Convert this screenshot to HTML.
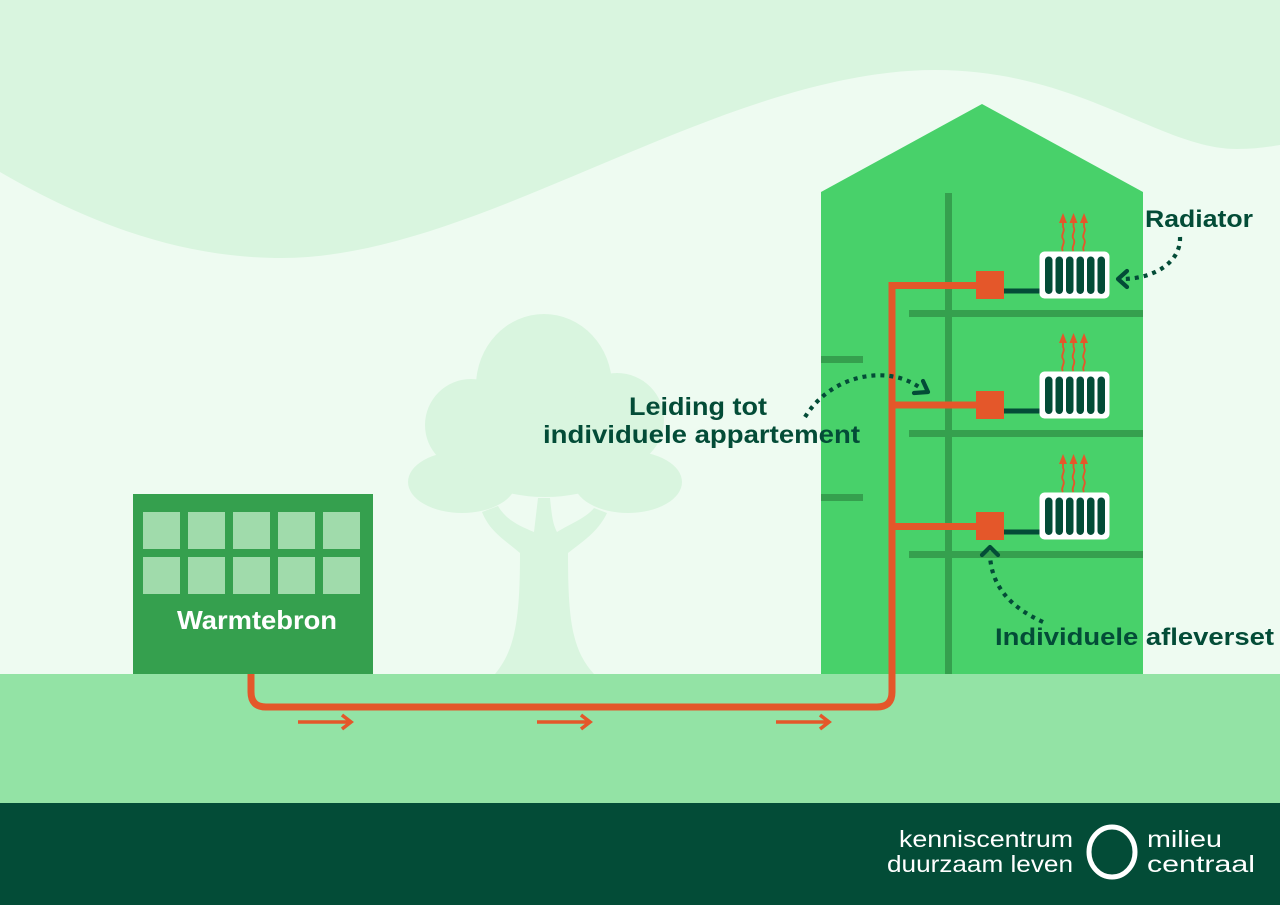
<!DOCTYPE html>
<html><head><meta charset="utf-8"><style>
html,body{margin:0;padding:0;background:#eefbf1;}
svg{display:block;}
</style></head><body>
<svg width="1280" height="905" viewBox="0 0 1280 905" xmlns="http://www.w3.org/2000/svg">
<rect x="0" y="0" width="1280" height="905" fill="#eefbf1"/>
<path d="M0,0 L1280,0 L1280,145 C1268,147 1255,149 1237,149 C1160,149 1080,70 935,70 C720,70 480,258 282,258 C190,258 100,230 0,172 Z" fill="#d9f5df"/>
<!-- tree -->
<g fill="#d9f5df">
<ellipse cx="544" cy="386" rx="68" ry="72"/>
<circle cx="471" cy="425" r="46"/>
<circle cx="617" cy="420" r="47"/>
<ellipse cx="462" cy="482" rx="54" ry="31"/>
<ellipse cx="628" cy="482" rx="54" ry="31"/>
<ellipse cx="545" cy="455" rx="85" ry="42"/>
<path d="M495,674 C515,650 520,620 520,553 C505,540 490,532 482,512 L498,506 C506,520 520,526 534,532 L538,498 L550,498 C552,518 553,524 557,532 C570,524 586,518 594,508 L607,513 C598,532 582,542 568,553 C568,620 572,650 594,674 Z"/>
</g>
<!-- ground & footer -->
<rect x="0" y="674" width="1280" height="129" fill="#93e3a5"/>
<rect x="0" y="803" width="1280" height="102" fill="#034c37"/>
<!-- warmtebron -->
<rect x="133" y="494" width="240" height="180" fill="#35a04e"/>
<g fill="#a0dbab">
<rect x="143" y="512" width="37" height="37"/><rect x="188" y="512" width="37" height="37"/><rect x="233" y="512" width="37" height="37"/><rect x="278" y="512" width="37" height="37"/><rect x="323" y="512" width="37" height="37"/>
<rect x="143" y="557" width="37" height="37"/><rect x="188" y="557" width="37" height="37"/><rect x="233" y="557" width="37" height="37"/><rect x="278" y="557" width="37" height="37"/><rect x="323" y="557" width="37" height="37"/>
</g>
<text x="177" y="629" textLength="160" lengthAdjust="spacingAndGlyphs" font-family="Liberation Sans, sans-serif" font-weight="bold" font-size="26" fill="#ffffff">Warmtebron</text>
<!-- main building -->
<polygon points="821,192 982,104 1143,192 1143,674 821,674" fill="#48d16a"/>
<rect x="945" y="193" width="7" height="481" fill="#35a04e"/>
<rect x="909" y="310" width="234" height="7" fill="#35a04e"/>
<rect x="909" y="430" width="234" height="7" fill="#35a04e"/>
<rect x="909" y="551" width="234" height="7" fill="#35a04e"/>
<rect x="821" y="356" width="42" height="7" fill="#35a04e"/>
<rect x="821" y="494" width="42" height="7" fill="#35a04e"/>
<!-- pipes -->
<path d="M251,674 L251,692 Q251,707 266,707 L877,707 Q892,707 892,692 L892,285.5 L980,285.5" fill="none" stroke="#e4572a" stroke-width="7" stroke-linejoin="miter"/>
<path d="M892,405 L980,405 M892,526.5 L980,526.5" fill="none" stroke="#e4572a" stroke-width="7"/>
<!-- flow arrows -->
<g fill="none" stroke="#e4572a" stroke-width="3.6" stroke-linecap="butt" stroke-linejoin="miter">
<path d="M298,722 L351,722 M342,715 L351,722 L342,729"/>
<path d="M537,722 L590,722 M581,715 L590,722 L581,729"/>
<path d="M776,722 L829,722 M820,715 L829,722 L820,729"/>
</g>
<!-- floors -->
<defs>
<g id="unit">
<rect x="976" y="271" width="28" height="28" fill="#e4572a"/>
<rect x="1004" y="288.5" width="36" height="5" fill="#034c37"/>
<rect x="1039.5" y="251.5" width="70" height="47" rx="5" fill="#ffffff"/>
<g fill="#034c37">
<rect x="1045" y="256.5" width="7.5" height="37.5" rx="3.7"/>
<rect x="1055.5" y="256.5" width="7.5" height="37.5" rx="3.7"/>
<rect x="1066" y="256.5" width="7.5" height="37.5" rx="3.7"/>
<rect x="1076.5" y="256.5" width="7.5" height="37.5" rx="3.7"/>
<rect x="1087" y="256.5" width="7.5" height="37.5" rx="3.7"/>
<rect x="1097.5" y="256.5" width="7.5" height="37.5" rx="3.7"/>
</g>
<g fill="none" stroke="#e4572a" stroke-width="1.8">
<path d="M1063,251 c-3,-4 3,-8 0,-12 c-3,-4 3,-8 0,-12 l0,-6"/>
<path d="M1073.5,251 c-3,-4 3,-8 0,-12 c-3,-4 3,-8 0,-12 l0,-6"/>
<path d="M1084,251 c-3,-4 3,-8 0,-12 c-3,-4 3,-8 0,-12 l0,-6"/>
</g>
<g fill="#e4572a">
<polygon points="1059,223 1063,213 1067,223"/>
<polygon points="1069.5,223 1073.5,213 1077.5,223"/>
<polygon points="1080,223 1084,213 1088,223"/>
</g>
</g>
</defs>
<use href="#unit"/>
<use href="#unit" transform="translate(0,120)"/>
<use href="#unit" transform="translate(0,241)"/>
<!-- labels -->
<g font-family="Liberation Sans, sans-serif" font-weight="bold" fill="#034c37">
<text x="1145" y="227" font-size="24" textLength="108" lengthAdjust="spacingAndGlyphs">Radiator</text>
<text x="629" y="415" font-size="25" textLength="138" lengthAdjust="spacingAndGlyphs">Leiding tot</text>
<text x="543" y="443" font-size="25" textLength="317" lengthAdjust="spacingAndGlyphs">individuele appartement</text>
<text x="995" y="645" font-size="24" textLength="279" lengthAdjust="spacingAndGlyphs">Individuele afleverset</text>
</g>
<!-- dotted arrows -->
<g fill="none" stroke="#034c37" stroke-width="4.2">
<path d="M1180,237 C1181,262 1155,278 1124,279" stroke-dasharray="4 5"/>
<path d="M805,417 C825,385 860,372 890,376 C905,378 915,384 922,389" stroke-dasharray="4 5"/>
<path d="M1043,622 C1012,608 992,588 990,556" stroke-dasharray="4 5"/>
</g>
<g fill="none" stroke="#034c37" stroke-width="4.2" stroke-linecap="round" stroke-linejoin="round">
<path d="M1127,271 L1118,279 L1127,287"/>
<path d="M923,381 L928,392 L914,393"/>
<path d="M982,555 L990,547 L998,555"/>
</g>
<!-- logo -->
<g font-family="Liberation Sans, sans-serif" fill="#ffffff" font-size="23">
<text x="1073" y="847" text-anchor="end" textLength="174" lengthAdjust="spacingAndGlyphs">kenniscentrum</text>
<text x="1073" y="872" text-anchor="end" textLength="186" lengthAdjust="spacingAndGlyphs">duurzaam leven</text>
<text x="1147" y="847" textLength="75" lengthAdjust="spacingAndGlyphs">milieu</text>
<text x="1147" y="872" textLength="108" lengthAdjust="spacingAndGlyphs">centraal</text>
</g>
<ellipse cx="1112" cy="852" rx="23" ry="25" fill="none" stroke="#ffffff" stroke-width="5"/>
</svg>
</body></html>
